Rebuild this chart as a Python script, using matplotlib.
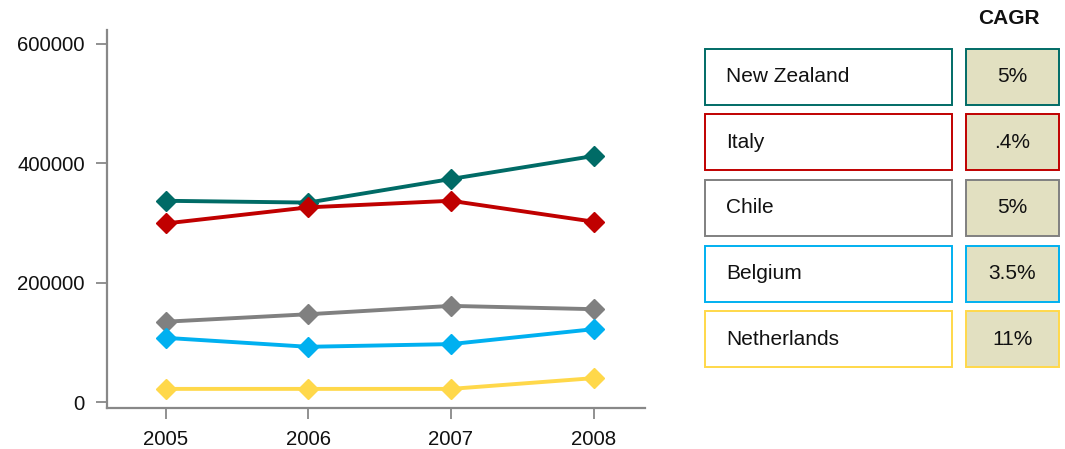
import matplotlib
matplotlib.use("Agg")
import matplotlib.pyplot as plt
from matplotlib.patches import Rectangle

plt.rcParams['font.family'] = ['Liberation Sans', 'DejaVu Sans']

years = [2005, 2006, 2007, 2008]
countries = ["New Zealand", "Italy", "Chile", "Belgium", "Netherlands"]
values = {
    "New Zealand": [337000, 334000, 373500, 412000],
    "Italy": [299000, 326000, 337000, 302000],
    "Chile": [134500, 147000, 161000, 155500],
    "Belgium": [107500, 92500, 97000, 122000],
    "Netherlands": [22000, 22000, 22000, 40000],
}
cagr = ["5%", ".4%", "5%", "3.5%", "11%"]
colors = ["#006B66", "#C00000", "#808080", "#00B0F0", "#FFD84A"]
y_ticks = [0, 200000, 400000, 600000]

W, H = 1065, 449
fig = plt.figure(figsize=(W / 100, H / 100), dpi=100)
ax = fig.add_axes([107 / W, 1 - 407.7 / H, (645 - 107) / W, (407.7 - 30) / H])

for name, col in zip(countries, colors):
    ax.plot(years, values[name], color=col, linewidth=2.8, marker="D",
            markersize=10, markeredgecolor=col, zorder=3)

ax.set_xlim(2004.59, 2008.36)
ax.set_ylim(-9500, 623000)
ax.set_xticks(years)
ax.set_yticks(y_ticks)
ax.set_yticklabels([str(v) for v in y_ticks])
for s in ("top", "right"):
    ax.spines[s].set_visible(False)
for s in ("left", "bottom"):
    ax.spines[s].set_color("#888888")
    ax.spines[s].set_linewidth(1.6)
ax.tick_params(colors="#888888", labelcolor="#111111", labelsize=14.7,
               length=8, width=1.3)
ax.tick_params(axis="y", pad=8)
ax.tick_params(axis="x", pad=8)

# table with country names and growth rates, drawn in pixel coordinates
tab = fig.add_axes([0, 0, 1, 1])
tab.set_xlim(0, W)
tab.set_ylim(H, 0)
tab.axis("off")

tab.text(1009, 19, "CAGR", ha="center", va="center", fontsize=15,
         fontweight="bold", color="#111111")
row_top, pitch, box_h = 48.5, 65.7, 56
for i, (name, rate, col) in enumerate(zip(countries, cagr, colors)):
    top = row_top + i * pitch
    tab.add_patch(Rectangle((705, top), 247, box_h, facecolor="white",
                            edgecolor=col, linewidth=1.4))
    tab.add_patch(Rectangle((966, top), 93, box_h, facecolor="#E2E0C1",
                            edgecolor=col, linewidth=1.4))
    tab.text(726, top + box_h / 2, name, ha="left", va="center",
             fontsize=15, color="#111111")
    tab.text(1012.5, top + box_h / 2, rate, ha="center", va="center",
             fontsize=15, color="#111111")

fig.savefig("out.png", dpi=100)
